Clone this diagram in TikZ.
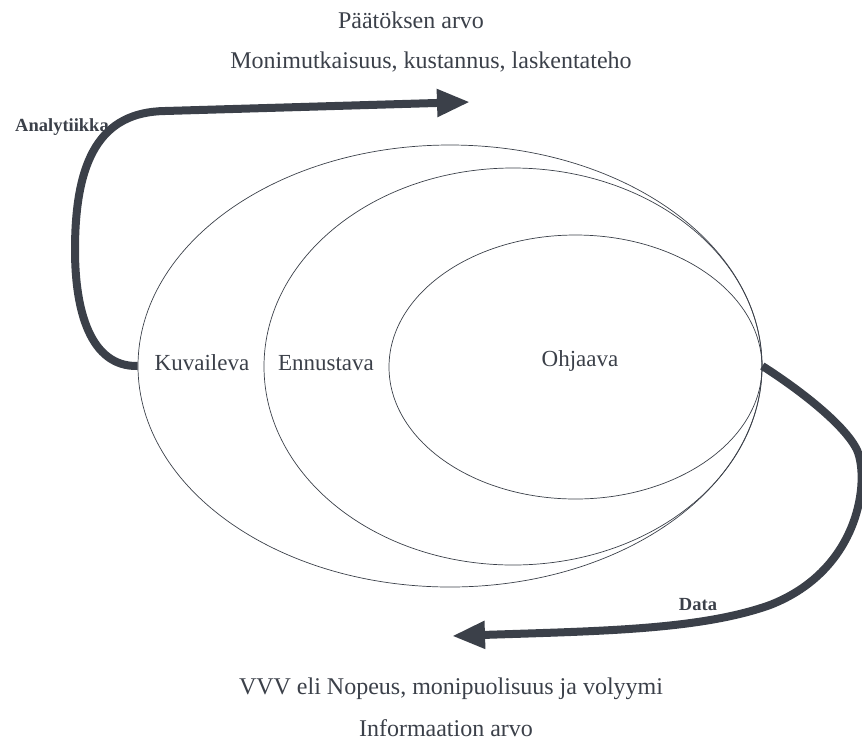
\documentclass[tikz,border=0pt]{standalone}
\usepackage{fontspec}
\setmainfont{Liberation Serif}
\usetikzlibrary{arrows.meta,shapes.geometric}
\definecolor{ink}{HTML}{3B4049}
\begin{document}
\begin{tikzpicture}[x=1pt,y=-1pt,
  ring/.style={draw=ink,line width=0.7pt,ellipse,inner sep=0pt},
  lbl/.style={text=ink,font=\fontsize{23}{26}\selectfont,inner sep=0pt},
  head/.style={text=ink,font=\fontsize{24}{28}\selectfont,inner sep=0pt},
  tag/.style={text=ink,font=\bfseries\fontsize{18.5}{21}\selectfont,inner sep=0pt},
  flow/.style={draw=ink,line width=8pt,-{Triangle[length=33pt,width=26pt]}}]
\useasboundingbox (0,0) rectangle (862,740);
% nested scopes of analytics
\node[ring,minimum width=624pt,minimum height=442pt] (kuv) at (450,366) {};
\node[ring,minimum width=498pt,minimum height=397pt] (enn) at (513,366.5) {};
\node[ring,minimum width=373pt,minimum height=264pt] (ohj) at (575.5,367) {};
\node[lbl] (tkuv) at (202,363) {Kuvaileva};
\node[lbl] (tenn) at (326,363) {Ennustava};
\node[lbl] (tohj) at (580,361) {Ohjaava};
% headings
\node[head] (paat) at (411,20) {P\"a\"at\"oksen arvo};
\node[head] (moni) at (431,62) {Monimutkaisuus, kustannus, laskentateho};
\node[head] (vvv) at (451,689) {VVV eli Nopeus, monipuolisuus ja volyymi};
\node[head] (info) at (446,728) {Informaation arvo};
% flow arrows
\coordinate (decTip) at (470,102);
\coordinate (infoTip) at (452,636);
\draw[flow] (kuv.west) .. controls (90,367) and (75,310) .. (75,250)
  .. controls (75,160) and (100,112) .. (165,111) -- (decTip);
\draw[flow] (kuv.east) .. controls (800,390) and (845,425) .. (857,450)
  .. controls (870,480) and (860,570) .. (770,605)
  .. controls (700,630) and (600,631) .. (infoTip);
\node[tag] (anal) at (62,127) {Analytiikka};
\node[tag] (data) at (698,605) {Data};
\end{tikzpicture}
\end{document}
